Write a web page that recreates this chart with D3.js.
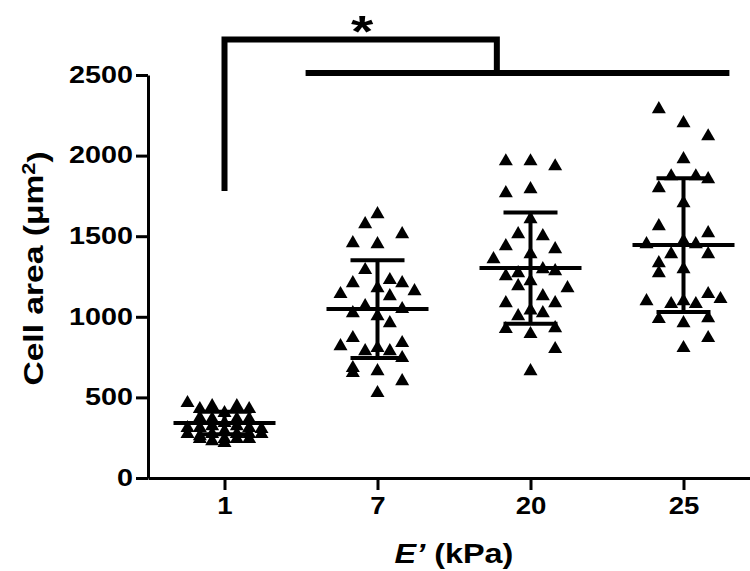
<!DOCTYPE html>
<html>
<head>
<meta charset="utf-8">
<script src="https://cdn.jsdelivr.net/npm/d3@7"></script>
<style>
  body { margin: 0; background: #fff; }
  svg text { font-family: "Liberation Sans", Arial, sans-serif; font-weight: bold; fill: #000; }
</style>
</head>
<body>
<svg id="chart" width="750" height="571"></svg>
<script>
// stiffness groups (kPa)
const categories = ["1", "7", "20", "25"];

// cell area per cell (um^2); colN = column slot of the dot in the scatter
const area1 = [465, 428, 446, 446, 428, 403, 372, 366, 366, 366, 341, 310, 310, 322, 322,
  310, 304, 291, 273, 260, 273, 273, 273, 273, 242, 242, 229, 217, 242, 242];
const col1 = [-3, -2, -1, 1, 2, 0, -2, -1, 1, 2, 0, -3, -2, -1, 1,
  2, 3, 0, -3, -2, -1, 1, 2, 3, 0, -2, -1, 0, 1, 2];

const area7 = [1637, 1575, 1513, 1457, 1451, 1290, 1209, 1228, 1209, 1141, 1159, 1178, 1128, 1066, 1023,
  1048, 1004, 961, 868, 818, 787, 806, 787, 837, 744, 682, 651, 663, 601, 527];
const col7 = [0, -1, 2, -2, 0, -1, -2, 1, 2, -3, 3, 0, 1, -1, -2,
  2, 0, 1, -2, -3, -1, 0, 1, 2, 2, -2, -2, 0, 2, 0];

const area20 = [1965, 1965, 1934, 1767, 1792, 1606, 1513, 1500, 1438, 1420, 1358, 1389, 1252, 1271, 1296,
  1283, 1190, 1221, 1178, 1085, 1128, 1085, 1040, 1004, 1023, 924, 893, 930, 800, 663];
const col20 = [-2, 0, 2, -2, 0, 0, -1, 1, -2, 2, -3, 0, -2, -1, 1,
  2, -1, 0, 3, -2, 1, 2, 0, -1, 1, -2, 0, 2, 2, 0];

const area25 = [2288, 2201, 2120, 1978, 1872, 1872, 1854, 1798, 1705, 1562, 1519, 1451, 1469, 1451, 1389,
  1389, 1333, 1271, 1296, 1097, 1079, 1079, 1141, 1110, 1097, 986, 961, 992, 868, 806];
const col25 = [-2, 0, 2, 0, -1, 1, 2, -2, 0, -2, 2, -3, 0, 1, -1,
  2, -2, -2, 0, -3, -1, 1, 2, 3, 0, -2, 0, 2, 2, 0];

// mean and SD bars
const means = [341, 1048, 1302, 1445];
const sds = [70, 303, 345, 415];

const yTicks = [0, 500, 1000, 1500, 2000, 2500];

// significance bracket: 1 kPa vs. the stiffer groups
const bracketTop = 2720;     // top horizontal
const bracketLeftEnd = 1780; // left leg end
const groupLine = 2512;      // line over 7/20/25
const groupLineSpan = [0.53, 3.3];  // in category index units
const bracketRightAt = 1.78;

const svg = d3.select("#chart");

const x = d3.scalePoint().domain(categories).range([148, 760]).padding(0.5);
const xi = d3.scaleLinear().domain([0, categories.length - 1]).range([x(categories[0]), x(categories[categories.length - 1])]);
const y = d3.scaleLinear().domain([0, 2500]).range([478, 75]);
const slot = d3.scaleLinear().domain([-3, 3]).range([-37, 37]);

const groups = [
  { cat: "1", area: area1, col: col1 },
  { cat: "7", area: area7, col: col7 },
  { cat: "20", area: area20, col: col20 },
  { cat: "25", area: area25, col: col25 }
];

// wide bold digits like the original
function stretch(sel, fs, k = 1.25) {
  sel.style("font-size", fs + "px")
    .attr("textLength", d => String(d).length * 0.556 * fs * k)
    .attr("lengthAdjust", "spacingAndGlyphs");
}

// Y axis
const yAxis = svg.append("g")
  .attr("transform", `translate(${148},0)`)
  .call(d3.axisLeft(y).tickValues(yTicks).tickFormat(d3.format("d")).tickSize(12).tickSizeOuter(0).tickPadding(3));
yAxis.selectAll("path, line").attr("stroke", "#000").attr("stroke-width", 3);
yAxis.selectAll("text").call(stretch, 23);

// X axis
const xAxis = svg.append("g")
  .attr("transform", `translate(0,${y(0)})`)
  .call(d3.axisBottom(x).tickSize(12).tickSizeOuter(0).tickPadding(7));
xAxis.selectAll("path, line").attr("stroke", "#000").attr("stroke-width", 3);
xAxis.selectAll("text").call(stretch, 24, 1.15);

// dots
const tri = d3.symbol(d3.symbolTriangle, 85);
groups.forEach(g => {
  svg.append("g").selectAll("path")
    .data(g.area)
    .enter()
    .append("path")
    .attr("d", tri)
    .attr("transform", (d, i) => `translate(${x(g.cat) + slot(g.col[i])},${y(d)})`)
    .attr("fill", "#000");
});

// mean +/- SD
const bars = svg.append("g").attr("stroke", "#000").attr("stroke-width", 4);
categories.forEach((c, i) => {
  const cx = x(c);
  bars.append("line").attr("x1", cx - 51).attr("x2", cx + 51).attr("y1", y(means[i])).attr("y2", y(means[i]));
  bars.append("line").attr("x1", cx).attr("x2", cx).attr("y1", y(means[i] - sds[i])).attr("y2", y(means[i] + sds[i]));
  [means[i] - sds[i], means[i] + sds[i]].forEach(v => {
    bars.append("line").attr("x1", cx - 27).attr("x2", cx + 27).attr("y1", y(v)).attr("y2", y(v));
  });
});

// bracket + star
svg.append("path")
  .attr("d", `M${xi(0)},${y(bracketLeftEnd)}V${y(bracketTop)}H${xi(bracketRightAt)}V${y(groupLine)}`)
  .attr("fill", "none").attr("stroke", "#000").attr("stroke-width", 6);
svg.append("line")
  .attr("x1", xi(groupLineSpan[0])).attr("x2", xi(groupLineSpan[1]))
  .attr("y1", y(groupLine)).attr("y2", y(groupLine))
  .attr("stroke", "#000").attr("stroke-width", 6);
svg.append("text")
  .attr("transform", `translate(${xi(0.9)},47) scale(1.3,1)`)
  .attr("text-anchor", "middle")
  .style("font-size", "44px")
  .text("*");

// axis titles
const yl = svg.append("text")
  .attr("transform", `translate(33,${(y(0) + y(2500)) / 2 - 8}) rotate(-90) scale(1.2,1)`)
  .attr("text-anchor", "middle")
  .attr("dy", "0.35em")
  .style("font-size", "28px");
yl.append("tspan").text("Cell area (\u03bcm");
yl.append("tspan").attr("dy", "-0.45em").style("font-size", "18px").text("2");
yl.append("tspan").attr("dy", "0.45em").text(")");

const xl = svg.append("text")
  .attr("transform", `translate(${(148 + 760) / 2},563) scale(1.2,1)`)
  .attr("text-anchor", "middle")
  .style("font-size", "27px");
xl.append("tspan").style("font-style", "italic").text("E\u2019");
xl.append("tspan").text(" (kPa)");
</script>
</body>
</html>
